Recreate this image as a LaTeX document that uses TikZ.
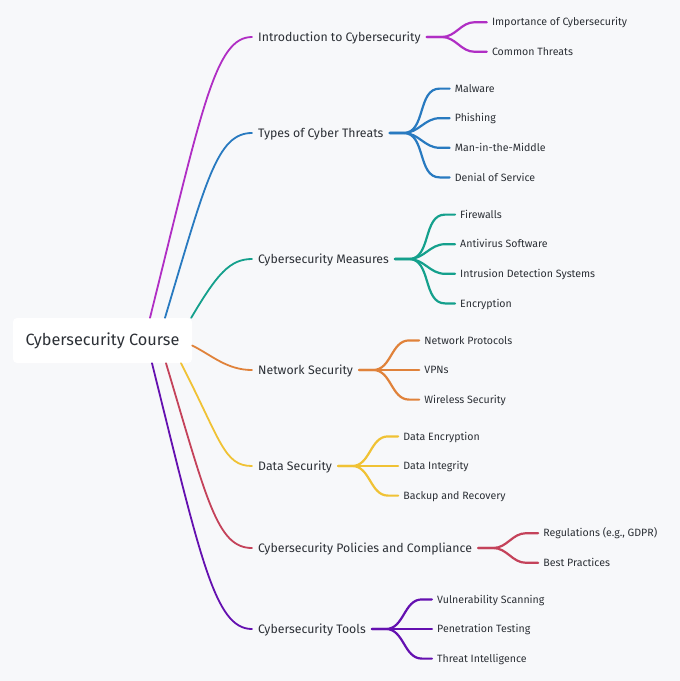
\documentclass[tikz,border=0pt]{standalone}
\usepackage{fontspec}
\setmainfont{Fira Sans}
\usetikzlibrary{positioning,calc}

\definecolor{bgcol}{RGB}{247,248,250}
\definecolor{txtcol}{RGB}{44,48,54}
\definecolor{cintro}{RGB}{176,46,196}
\definecolor{ctypes}{RGB}{40,122,192}
\definecolor{cmeas}{RGB}{20,160,140}
\definecolor{cnet}{RGB}{224,130,58}
\definecolor{cdata}{RGB}{240,194,52}
\definecolor{cpol}{RGB}{196,66,90}
\definecolor{ctools}{RGB}{100,16,176}

\begin{document}
\begin{tikzpicture}[x=1pt, y=-1pt,
  rootbox/.style={fill=white, rounded corners=4pt, minimum width=179pt, minimum height=45pt, font=\fontsize{16.3}{19}\selectfont, text=txtcol},
  topic/.style={anchor=west, inner xsep=6pt, inner ysep=0pt, text height=8.5pt, text depth=0pt, font=\fontsize{12.3}{14}\selectfont, text=txtcol},
  leaf/.style={inner xsep=5pt, inner ysep=0pt, text height=7.3pt, text depth=0pt, font=\fontsize{10.6}{12}\selectfont, text=txtcol},
  branch/.style={line width=1.8pt, line cap=round},
  twig/.style={line width=2.2pt, line cap=round}]

% Background
\fill[bgcol] (0,0) rectangle (680,681);

% Central node
\node[rootbox] (root) at (102.5,340.5) {Cybersecurity Course};

% Main topics
\node[topic] (intro) at (252,37) {Introduction to Cybersecurity};
\node[topic] (types) at (252,133) {Types of Cyber Threats};
\node[topic] (measures) at (252,259) {Cybersecurity Measures};
\node[topic] (network) at (252,370) {Network Security};
\node[topic] (data) at (252,466) {Data Security};
\node[topic] (policies) at (252,548) {Cybersecurity Policies and Compliance};
\node[topic] (tools) at (252,629) {Cybersecurity Tools};

% Sub topics
\node[leaf, right=60pt of intro, yshift=14.8pt] (importance) {Importance of Cybersecurity};
\node[leaf, right=60pt of intro, yshift=-14.8pt] (common) {Common Threats};

\node[leaf, right=60pt of types, yshift=44.4pt] (malware) {Malware};
\node[leaf, right=60pt of types, yshift=14.8pt] (phishing) {Phishing};
\node[leaf, right=60pt of types, yshift=-14.8pt] (mitm) {Man-in-the-Middle};
\node[leaf, right=60pt of types, yshift=-44.4pt] (dos) {Denial of Service};

\node[leaf, right=60pt of measures, yshift=44.4pt] (firewalls) {Firewalls};
\node[leaf, right=60pt of measures, yshift=14.8pt] (antivirus) {Antivirus Software};
\node[leaf, right=60pt of measures, yshift=-14.8pt] (ids) {Intrusion Detection Systems};
\node[leaf, right=60pt of measures, yshift=-44.4pt] (encryption) {Encryption};

\node[leaf, right=60pt of network, yshift=29.6pt] (protocols) {Network Protocols};
\node[leaf, right=60pt of network] (vpns) {VPNs};
\node[leaf, right=60pt of network, yshift=-29.6pt] (wireless) {Wireless Security};

\node[leaf, right=60pt of data, yshift=29.6pt] (dataenc) {Data Encryption};
\node[leaf, right=60pt of data] (integrity) {Data Integrity};
\node[leaf, right=60pt of data, yshift=-29.6pt] (backup) {Backup and Recovery};

\node[leaf, right=60pt of policies, yshift=14.8pt] (regulations) {Regulations (e.g., GDPR)};
\node[leaf, right=60pt of policies, yshift=-14.8pt] (practices) {Best Practices};

\node[leaf, right=60pt of tools, yshift=29.6pt] (vulnscan) {Vulnerability Scanning};
\node[leaf, right=60pt of tools] (pentest) {Penetration Testing};
\node[leaf, right=60pt of tools, yshift=-29.6pt] (intel) {Threat Intelligence};

% Branches from the centre
\draw[branch, cintro] ([xshift=47.5pt]root.north) .. controls +(52,-208.5) and +(-37,0) .. (intro.west);
\draw[branch, ctypes] ([xshift=62.5pt]root.north) .. controls +(41,-137) and +(-35,0) .. (types.west);
\draw[branch, cmeas] ([xshift=-1pt]root.north east) .. controls +(26,-44) and +(-22,0) .. (measures.west);
\draw[branch, cnet] ([yshift=-5pt]root.east) .. controls +(20,10) and +(-25,0) .. (network.west);
\draw[branch, cdata] ([xshift=78.5pt]root.south) .. controls +(40,78) and +(-28,0) .. (data.west);
\draw[branch, cpol] ([xshift=63.5pt]root.south) .. controls +(41,137) and +(-35,0) .. (policies.west);
\draw[branch, ctools] ([xshift=49.5pt]root.south) .. controls +(49,197) and +(-37,0) .. (tools.west);

% Twigs to the sub topics
\draw[twig, cintro] (intro.east) -- ++(15,0) to[out=0,in=180] ([xshift=-12pt]importance.west) -- (importance.west);
\draw[twig, cintro] (intro.east) -- ++(15,0) to[out=0,in=180] ([xshift=-12pt]common.west) -- (common.west);

\draw[twig, ctypes] (types.east) -- ++(14,0) to[out=0,in=180] ([xshift=-10pt]malware.west) -- (malware.west);
\draw[twig, ctypes] (types.east) -- ++(14,0) to[out=0,in=180] ([xshift=-10pt]phishing.west) -- (phishing.west);
\draw[twig, ctypes] (types.east) -- ++(14,0) to[out=0,in=180] ([xshift=-10pt]mitm.west) -- (mitm.west);
\draw[twig, ctypes] (types.east) -- ++(14,0) to[out=0,in=180] ([xshift=-10pt]dos.west) -- (dos.west);

\draw[twig, cmeas] (measures.east) -- ++(14,0) to[out=0,in=180] ([xshift=-10pt]firewalls.west) -- (firewalls.west);
\draw[twig, cmeas] (measures.east) -- ++(14,0) to[out=0,in=180] ([xshift=-10pt]antivirus.west) -- (antivirus.west);
\draw[twig, cmeas] (measures.east) -- ++(14,0) to[out=0,in=180] ([xshift=-10pt]ids.west) -- (ids.west);
\draw[twig, cmeas] (measures.east) -- ++(14,0) to[out=0,in=180] ([xshift=-10pt]encryption.west) -- (encryption.west);

\draw[twig, cnet] (network.east) -- ++(14,0) to[out=0,in=180] ([xshift=-10pt]protocols.west) -- (protocols.west);
\draw[twig, cnet] (network.east) -- (vpns.west);
\draw[twig, cnet] (network.east) -- ++(14,0) to[out=0,in=180] ([xshift=-10pt]wireless.west) -- (wireless.west);

\draw[twig, cdata] (data.east) -- ++(14,0) to[out=0,in=180] ([xshift=-10pt]dataenc.west) -- (dataenc.west);
\draw[twig, cdata] (data.east) -- (integrity.west);
\draw[twig, cdata] (data.east) -- ++(14,0) to[out=0,in=180] ([xshift=-10pt]backup.west) -- (backup.west);

\draw[twig, cpol] (policies.east) -- ++(15,0) to[out=0,in=180] ([xshift=-12pt]regulations.west) -- (regulations.west);
\draw[twig, cpol] (policies.east) -- ++(15,0) to[out=0,in=180] ([xshift=-12pt]practices.west) -- (practices.west);

\draw[twig, ctools] (tools.east) -- ++(14,0) to[out=0,in=180] ([xshift=-10pt]vulnscan.west) -- (vulnscan.west);
\draw[twig, ctools] (tools.east) -- (pentest.west);
\draw[twig, ctools] (tools.east) -- ++(14,0) to[out=0,in=180] ([xshift=-10pt]intel.west) -- (intel.west);
\end{tikzpicture}
\end{document}
